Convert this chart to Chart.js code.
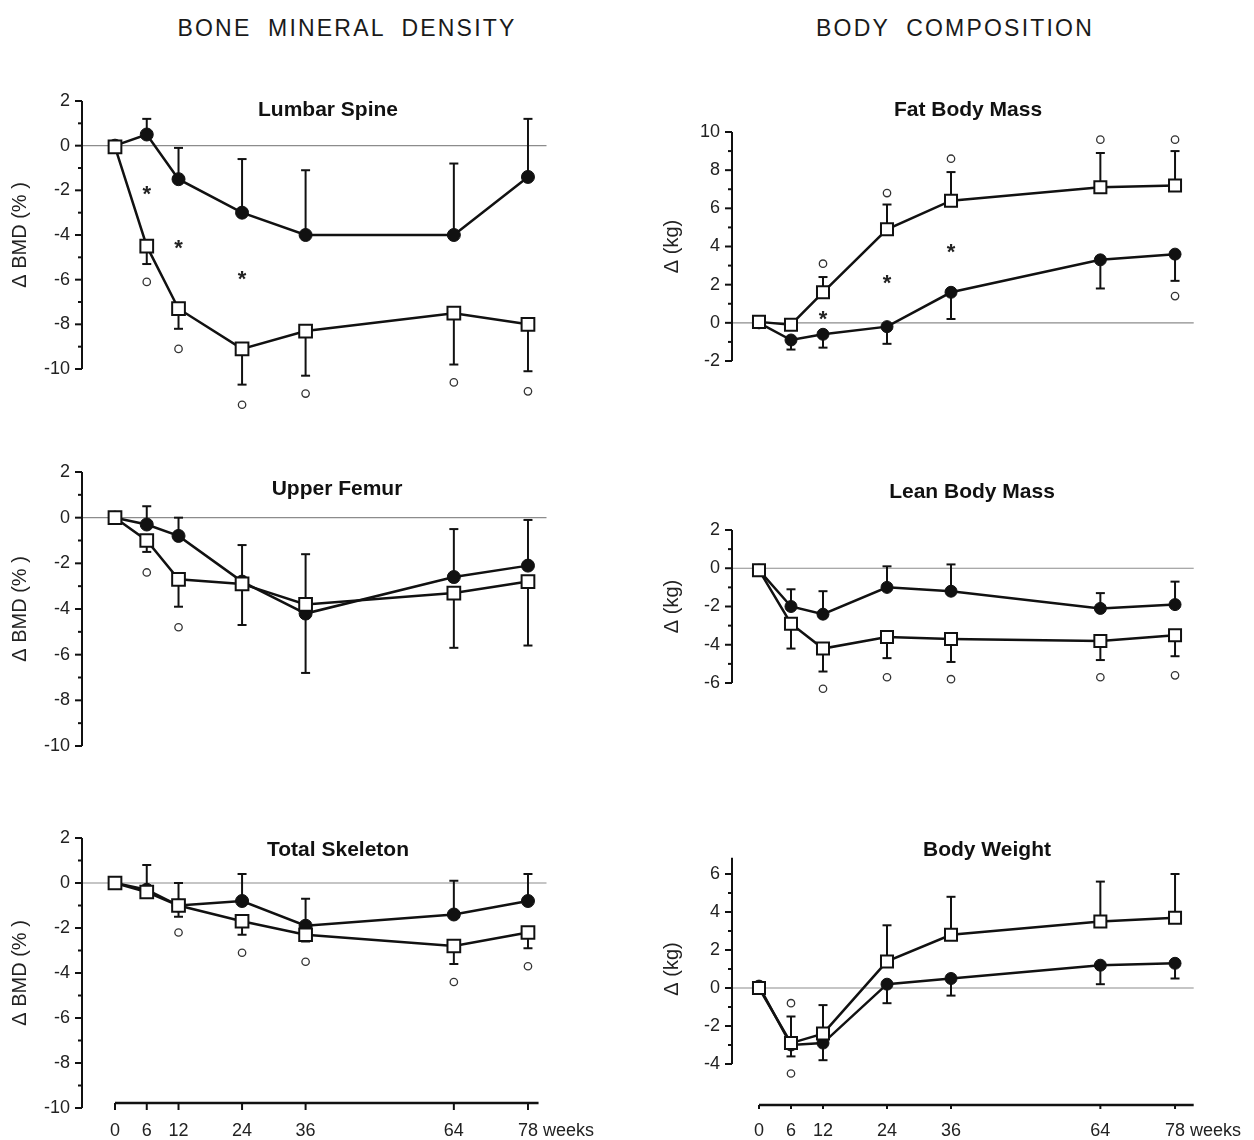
<!DOCTYPE html>
<html>
<head>
<meta charset="utf-8">
<script src="https://cdn.jsdelivr.net/npm/chart.js@4.4.1/dist/chart.umd.min.js"></script>
<style>
body { margin: 0; background: #fff; width: 1254px; height: 1140px; position: relative; overflow: hidden; font-family: "Liberation Sans", Arial, sans-serif; }
canvas { position: absolute; }
.head { position: absolute; top: 15px; font-size: 23px; letter-spacing: 2.2px; word-spacing: 8px; color: #1a1a1a; transform: translateX(-50%); white-space: nowrap; }
</style>
</head>
<body>
<div class="head" style="left:347px">BONE MINERAL DENSITY</div>
<div class="head" style="left:955px">BODY COMPOSITION</div>
<canvas id="lumbar"></canvas>
<canvas id="femur"></canvas>
<canvas id="skeleton"></canvas>
<canvas id="fat"></canvas>
<canvas id="lean"></canvas>
<canvas id="weight"></canvas>
<script>
// weeks of follow-up
var weeks = [0, 6, 12, 24, 36, 64, 78];

// lumbar spine, delta BMD %
var lsCircle = [0, 0.5, -1.5, -3.0, -4.0, -4.0, -1.4];
var lsCircleErr = [0, 0.7, 1.4, 2.4, 2.9, 3.2, 2.6];
var lsSquare = [-0.05, -4.5, -7.3, -9.1, -8.3, -7.5, -8.0];
var lsSquareErr = [0, 0.8, 0.9, 1.6, 2.0, 2.3, 2.1];
var lsRings = [[6, -6.1], [12, -9.1], [24, -11.6], [36, -11.1], [64, -10.6], [78, -11.0]];
var lsStars = [[6, -2.0], [12, -4.4], [24, -5.8]];

// upper femur
var ufCircle = [0, -0.3, -0.8, -2.8, -4.2, -2.6, -2.1];
var ufCircleErr = [0, 0.8, 0.8, 1.6, 2.6, 2.1, 2.0];
var ufSquare = [0, -1.0, -2.7, -2.9, -3.8, -3.3, -2.8];
var ufSquareErr = [0, 0.5, 1.2, 1.8, 3.0, 2.4, 2.8];
var ufRings = [[6, -2.4], [12, -4.8]];

// total skeleton
var tsCircle = [0, -0.3, -1.0, -0.8, -1.9, -1.4, -0.8];
var tsCircleErr = [0, 1.1, 1.0, 1.2, 1.2, 1.5, 1.2];
var tsSquare = [0, -0.4, -1.0, -1.7, -2.3, -2.8, -2.2];
var tsSquareErr = [0, 0.1, 0.5, 0.6, 0.3, 0.8, 0.7];
var tsRings = [[12, -2.2], [24, -3.1], [36, -3.5], [64, -4.4], [78, -3.7]];

// fat body mass, kg
var fmSquare = [0.05, -0.1, 1.6, 4.9, 6.4, 7.1, 7.2];
var fmSquareErr = [0, 0.3, 0.8, 1.3, 1.5, 1.8, 1.8];
var fmCircle = [0, -0.9, -0.6, -0.2, 1.6, 3.3, 3.6];
var fmCircleErr = [0, 0.5, 0.7, 0.9, 1.4, 1.5, 1.4];
var fmRings = [[12, 3.1], [24, 6.8], [36, 8.6], [64, 9.6], [78, 9.6], [78, 1.4]];
var fmStars = [[12, 0.4], [24, 2.3], [36, 3.9]];

// lean body mass
var lmCircle = [-0.1, -2.0, -2.4, -1.0, -1.2, -2.1, -1.9];
var lmCircleErr = [0, 0.9, 1.2, 1.1, 1.4, 0.8, 1.2];
var lmSquare = [-0.1, -2.9, -4.2, -3.6, -3.7, -3.8, -3.5];
var lmSquareErr = [0, 1.3, 1.2, 1.1, 1.2, 1.0, 1.1];
var lmRings = [[12, -6.3], [24, -5.7], [36, -5.8], [64, -5.7], [78, -5.6]];

// body weight
var bwSquare = [0, -2.9, -2.4, 1.4, 2.8, 3.5, 3.7];
var bwSquareErr = [0, 1.4, 1.5, 1.9, 2.0, 2.1, 2.3];
var bwCircle = [0.1, -3.0, -2.9, 0.2, 0.5, 1.2, 1.3];
var bwCircleErr = [0, 0.6, 0.9, 1.0, 0.9, 1.0, 0.8];
var bwRings = [[6, -0.8], [6, -4.5]];

var FONT = '"Liberation Sans", Arial, sans-serif';
var INK = '#111';

var columns = {
    left:  { canvasLeft: 0,   canvasWidth: 620, areaLeft: 82,  areaRight: 546.5,  xMin: -6.23, xMax: 81.5, xLineEnd: 80,   titlePad: 8,  circleR: 6.5, squareR: 9 },
    right: { canvasLeft: 640, canvasWidth: 614, areaLeft: 732, areaRight: 1193.7, xMin: -5.06, xMax: 81.5, xLineEnd: 81.5, titlePad: 20, circleR: 6,   squareR: 8.5 }
};

var panels = [
    { id: 'lumbar', col: 'left', title: 'Lumbar Spine', titleAt: [328, 110], yLabel: 'Δ BMD (% )',
      yMin: -10, yMax: 2, axisHi: 2, areaTop: 101, areaBottom: 369, padTop: 30, padBottom: 50,
      squares: lsSquare, squareErr: lsSquareErr, squareDir: -1, circles: lsCircle, circleErr: lsCircleErr, circleDir: 1,
      rings: lsRings, stars: lsStars },
    { id: 'femur', col: 'left', title: 'Upper Femur', titleAt: [337, 489], yLabel: 'Δ BMD (% )',
      yMin: -10, yMax: 2, axisHi: 2, areaTop: 472, areaBottom: 746, padTop: 30, padBottom: 50,
      squares: ufSquare, squareErr: ufSquareErr, squareDir: -1, circles: ufCircle, circleErr: ufCircleErr, circleDir: 1,
      rings: ufRings, stars: [] },
    { id: 'skeleton', col: 'left', title: 'Total Skeleton', titleAt: [338, 850], yLabel: 'Δ BMD (% )',
      yMin: -10, yMax: 2, axisHi: 2, areaTop: 838, areaBottom: 1108, padTop: 30, padBottom: 32,
      xAxis: true, xAxisH: 30, xPad: 12, xLineOffset: -5, xTickLen: 7,
      squares: tsSquare, squareErr: tsSquareErr, squareDir: -1, circles: tsCircle, circleErr: tsCircleErr, circleDir: 1,
      rings: tsRings, stars: [] },
    { id: 'fat', col: 'right', title: 'Fat Body Mass', titleAt: [968, 110], yLabel: 'Δ (kg)',
      yMin: -2, yMax: 10, axisHi: 10, areaTop: 132, areaBottom: 361, padTop: 55, padBottom: 50,
      squares: fmSquare, squareErr: fmSquareErr, squareDir: 1, circles: fmCircle, circleErr: fmCircleErr, circleDir: -1,
      rings: fmRings, stars: fmStars },
    { id: 'lean', col: 'right', title: 'Lean Body Mass', titleAt: [972, 492], yLabel: 'Δ (kg)',
      yMin: -6, yMax: 2, axisHi: 2, areaTop: 530, areaBottom: 683, padTop: 55, padBottom: 50,
      squares: lmSquare, squareErr: lmSquareErr, squareDir: -1, circles: lmCircle, circleErr: lmCircleErr, circleDir: 1,
      rings: lmRings, stars: [] },
    { id: 'weight', col: 'right', title: 'Body Weight', titleAt: [987, 850], yLabel: 'Δ (kg)',
      yMin: -4, yMax: 6, axisHi: 6.85, areaTop: 874, areaBottom: 1064, padTop: 55, padBottom: 76,
      xAxis: true, xAxisH: 74, xPad: 56, xLineOffset: 41, xTickLen: 4,
      squares: bwSquare, squareErr: bwSquareErr, squareDir: 1, circles: bwCircle, circleErr: bwCircleErr, circleDir: -1,
      rings: bwRings, stars: [] }
];

function seg(ctx, x0, y0, x1, y1) {
    ctx.beginPath();
    ctx.moveTo(x0, y0);
    ctx.lineTo(x1, y1);
    ctx.stroke();
}

function paperPlugin(p, col, canvasTop) {
    return {
        id: 'paper_' + p.id,
        beforeDatasetsDraw: function (chart) {
            var ctx = chart.ctx, a = chart.chartArea, x = chart.scales.x, y = chart.scales.y;
            ctx.save();
            // zero reference line
            ctx.strokeStyle = '#8c8c8c';
            ctx.lineWidth = 1.2;
            seg(ctx, a.left, y.getPixelForValue(0), a.right, y.getPixelForValue(0));
            // y axis with major / minor ticks
            ctx.strokeStyle = INK;
            ctx.lineWidth = 2;
            seg(ctx, a.left, y.getPixelForValue(p.yMin), a.left, y.getPixelForValue(p.axisHi));
            for (var v = p.yMin; v <= p.axisHi; v++) {
                var py = y.getPixelForValue(v);
                seg(ctx, a.left - (v % 2 === 0 ? 7 : 4), py, a.left, py);
            }
            // detached time axis on the bottom panels
            if (p.xAxis) {
                var ly = a.bottom + p.xLineOffset;
                ctx.lineWidth = 2.5;
                seg(ctx, x.getPixelForValue(0), ly, x.getPixelForValue(col.xLineEnd), ly);
                ctx.lineWidth = 2;
                weeks.forEach(function (w) {
                    var px = x.getPixelForValue(w);
                    seg(ctx, px, ly, px, ly + p.xTickLen);
                });
            }
            // error bars (one-sided)
            ctx.lineWidth = 2;
            [[p.squares, p.squareErr, p.squareDir], [p.circles, p.circleErr, p.circleDir]].forEach(function (s) {
                s[0].forEach(function (val, i) {
                    var e = s[1][i];
                    if (!e) return;
                    var px = x.getPixelForValue(weeks[i]);
                    var p0 = y.getPixelForValue(val);
                    var p1 = y.getPixelForValue(val + s[2] * e);
                    seg(ctx, px, p0, px, p1);
                    seg(ctx, px - 4.5, p1, px + 4.5, p1);
                });
            });
            ctx.restore();
        },
        afterDatasetsDraw: function (chart) {
            var ctx = chart.ctx, x = chart.scales.x, y = chart.scales.y;
            ctx.save();
            // significance marks
            ctx.strokeStyle = '#333';
            ctx.lineWidth = 1.3;
            p.rings.forEach(function (r) {
                ctx.beginPath();
                ctx.arc(x.getPixelForValue(r[0]), y.getPixelForValue(r[1]), 3.7, 0, Math.PI * 2);
                ctx.stroke();
            });
            ctx.fillStyle = '#222';
            ctx.font = 'bold 22px ' + FONT;
            ctx.textAlign = 'center';
            ctx.textBaseline = 'middle';
            p.stars.forEach(function (s) {
                ctx.fillText('*', x.getPixelForValue(s[0]), y.getPixelForValue(s[1]) + 5);
            });
            // panel title
            ctx.fillStyle = INK;
            ctx.font = 'bold 21px ' + FONT;
            ctx.fillText(p.title, p.titleAt[0] - col.canvasLeft, p.titleAt[1] - canvasTop);
            if (p.xAxis) {
                ctx.font = '18px ' + FONT;
                ctx.fillStyle = '#222';
                ctx.textAlign = 'left';
                ctx.textBaseline = 'top';
                ctx.fillText('weeks', x.getPixelForValue(78) + 15, chart.chartArea.bottom + p.xPad + 2);
            }
            ctx.restore();
        }
    };
}

panels.forEach(function (p) {
    var col = columns[p.col];
    var canvas = document.getElementById(p.id);
    var canvasTop = p.areaTop - p.padTop;
    var canvasHeight = Math.round(p.areaBottom + p.padBottom - canvasTop);
    canvas.width = col.canvasWidth;
    canvas.height = canvasHeight;
    canvas.style.left = col.canvasLeft + 'px';
    canvas.style.top = canvasTop + 'px';
    canvas.style.width = col.canvasWidth + 'px';
    canvas.style.height = canvasHeight + 'px';
    var xAxisH = p.xAxis ? p.xAxisH : 0;

    new Chart(canvas, {
        type: 'line',
        data: {
            datasets: [
                {
                    label: 'squares',
                    data: weeks.map(function (w, i) { return { x: w, y: p.squares[i] }; }),
                    borderColor: INK,
                    borderWidth: 2.5,
                    pointStyle: 'rect',
                    pointRadius: col.squareR,
                    pointBackgroundColor: '#fff',
                    pointBorderColor: INK,
                    pointBorderWidth: 2,
                    tension: 0,
                    fill: false,
                    clip: false
                },
                {
                    label: 'circles',
                    data: weeks.map(function (w, i) { return { x: w, y: p.circles[i] }; }),
                    borderColor: INK,
                    borderWidth: 2.5,
                    pointStyle: 'circle',
                    pointRadius: col.circleR,
                    pointBackgroundColor: INK,
                    pointBorderColor: INK,
                    pointBorderWidth: 1,
                    tension: 0,
                    fill: false,
                    clip: false
                }
            ]
        },
        options: {
            animation: false,
            responsive: false,
            devicePixelRatio: 1,
            layout: {
                padding: {
                    left: 0,
                    top: p.padTop,
                    right: col.canvasLeft + col.canvasWidth - col.areaRight,
                    bottom: p.padBottom - xAxisH
                }
            },
            plugins: {
                legend: { display: false },
                tooltip: { enabled: false }
            },
            scales: {
                x: {
                    type: 'linear',
                    min: col.xMin,
                    max: col.xMax,
                    display: !!p.xAxis,
                    afterBuildTicks: function (s) { s.ticks = weeks.map(function (w) { return { value: w }; }); },
                    afterFit: function (s) { s.height = xAxisH; },
                    grid: { display: false, drawTicks: false },
                    border: { display: false },
                    ticks: {
                        autoSkip: false,
                        maxRotation: 0,
                        padding: p.xPad || 0,
                        color: '#222',
                        font: { family: FONT, size: 18 }
                    }
                },
                y: {
                    type: 'linear',
                    min: p.yMin,
                    max: p.yMax,
                    afterFit: function (s) { s.width = col.areaLeft - col.canvasLeft; },
                    grid: { display: false, drawTicks: false },
                    border: { display: false },
                    ticks: {
                        stepSize: 2,
                        padding: 12,
                        color: '#222',
                        font: { family: FONT, size: 18 }
                    },
                    title: {
                        display: true,
                        text: p.yLabel,
                        color: '#222',
                        font: { family: FONT, size: 20 },
                        padding: { top: col.titlePad, bottom: 0 }
                    }
                }
            }
        },
        plugins: [paperPlugin(p, col, canvasTop)]
    });
});
</script>
</body>
</html>
